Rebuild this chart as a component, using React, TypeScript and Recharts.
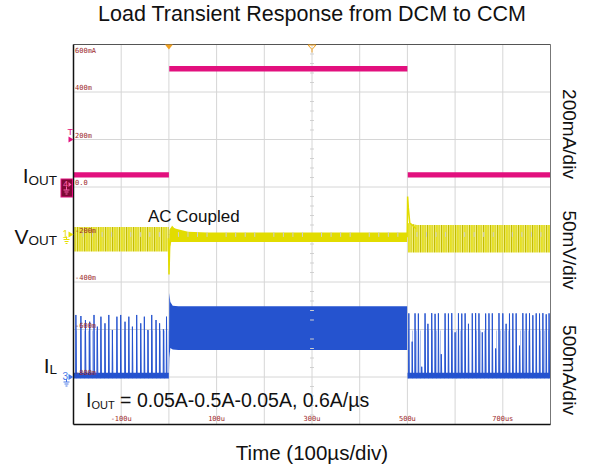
import React from "react";
import {
  ComposedChart,
  Area,
  Line,
  XAxis,
  YAxis,
  CartesianGrid,
  ReferenceLine,
  ReferenceDot,
} from "recharts";

// time base: 100us/div, trigger at 0
const timeTicks = [-200, -100, 0, 100, 200, 300, 400, 500, 600, 700, 800];
const timeLabels: Record<string, string> = {
  "-100": "-100u",
  "100": "100u",
  "300": "300u",
  "500": "500u",
  "700": "700us",
};

// scale readout of ch4 (mA), 200mA/div
const iTicks = [-1000, -800, -600, -400, -200, 0, 200, 400, 600];
const iLabels: Record<string, string> = {
  "600": "600mA",
  "400": "400m",
  "200": "200m",
  "0": "0.0",
  "-200": "-200m",
  "-400": "-400m",
  "-600": "-600m",
  "-800": "-800m",
};

// ch4 IOUT (mA): trace envelope
const ioutTime = [-200, 0, 0.75, 500, 500.75, 800];
const ioutLow = [40, 40, 486, 486, 40, 40];
const ioutHigh = [62, 62, 510, 510, 62, 62];

// ch1 VOUT (mV, AC coupled): ripple envelopes
const vDcm1Time = [-200, -0.5];
const vDcm1Low = [-18, -18];
const vDcm1High = [8, 8];
const vCcmTime = [1, 5, 15, 40, 80, 499.5];
const vCcmLow = [-15, -8, -8, -8, -8, -8];
const vCcmHigh = [5, 8, 6, 3, 2, 2];
const vDcm2Time = [501, 520, 800];
const vDcm2Low = [-19, -19, -19];
const vDcm2High = [12, 10, 10];
// ch1 transients
const vDipTime = [-1, 0.2, 1.5, 4, 7, 12];
const vDipVal = [-4, -42, -15, 4, 8, 5];
const vSpikeTime = [499.5, 500.5, 502, 505, 510, 518];
const vSpikeVal = [-3, 40, 28, 12, 10, 6];

// ch3 IL (mA)
const ilCcmTime = [0, 0.8, 3, 8, 20, 499.5];
const ilCcmLow = [15, 200, 305, 290, 284, 284];
const ilCcmHigh = [45, 884, 790, 750, 745, 745];
const ilBase1Time = [-200, -0.2];
const ilBase2Time = [500.3, 800];
const ilBaseLow = [-15, -15];
const ilBaseHigh = [45, 45];
const ilFaintHigh = [490, 490];
// DCM pulses before the step
const pulse1Time = [-195, -184.5, -175, -166, -157, -150, -142.5, -134, -126, -118.5, -109, -101, -92, -84, -76.5, -67.5, -59, -51.5, -44, -36, -27, -19.5, -11.5, -5];
const pulse1Peak = [653, 642, 600, 582, 653, 530, 635, 565, 653, 495, 635, 653, 582, 635, 530, 653, 565, 635, 495, 653, 600, 565, 502, 635];
// DCM pulses after the step
const pulse2Time = [503, 510, 516, 523, 530, 537, 543, 551, 558, 565, 571, 579, 586, 593, 600, 607, 614, 621, 628, 636, 643, 650, 657, 664, 671, 678, 685, 692, 700, 707, 714, 721, 728, 735, 742, 749, 756, 763, 770, 777, 784, 791, 797];
const pulse2Peak = [670, 372, 670, 668, 108, 670, 560, 672, 665, 670, 240, 670, 668, 672, 470, 670, 668, 670, 560, 670, 672, 670, 470, 668, 670, 670, 300, 672, 670, 560, 668, 670, 670, 330, 672, 668, 670, 650, 670, 668, 672, 660, 670];

const band = (time: number[], lo: number[], hi: number[]) =>
  time.map((t, i) => ({ t, r: [lo[i], hi[i]] }));
const trace = (time: number[], val: number[]) =>
  time.map((t, i) => ({ t, v: val[i] }));
const pulses = (time: number[], peak: number[], base: number) =>
  time.flatMap((t, i) => [
    { t: t - 0.5, v: base },
    { t, v: peak[i] },
    { t: t + 1, v: base },
  ]);

const MAGENTA = "#e2107e";
const YELLOW = "#e2dc00";
const BLUE = "#2553cf";
const ORANGE = "#f0a020";
const LABEL_RED = "#9c2a2a";
const SANS = "'Liberation Sans', Arial, Helvetica, sans-serif";
const MONO = "'DejaVu Sans Mono', monospace";

const XTick = (p: any) => {
  const s = timeLabels[String(p.payload.value)];
  if (!s) return <g />;
  return (
    <text x={p.x} y={421} textAnchor="middle" fontSize={7} fontFamily={MONO} fill={LABEL_RED}>
      {s}
    </text>
  );
};

const YTick = (p: any) => {
  const s = iLabels[String(p.payload.value)];
  if (!s) return <g />;
  const top = p.payload.value === 600;
  return (
    <text x={75} y={top ? p.y + 8 : p.y - 2} fontSize={7} fontFamily={MONO} fill={LABEL_RED}>
      {s}
    </text>
  );
};

const Ground = ({ x, y, c }: { x: number; y: number; c: string }) => (
  <g stroke={c} strokeWidth={1}>
    <line x1={x} y1={y} x2={x} y2={y + 3} />
    <line x1={x - 3} y1={y + 3} x2={x + 3} y2={y + 3} />
    <line x1={x - 2} y1={y + 5} x2={x + 2} y2={y + 5} />
    <line x1={x - 1} y1={y + 7} x2={x + 1} y2={y + 7} />
  </g>
);

const ChMarker = (c: string, n: string) => (p: any) => (
  <g>
    <text x={p.cx - 11} y={p.cy + 3} fontSize={10} fontFamily={SANS} fill={c}>
      {n}
    </text>
    <path d={`M${p.cx - 5},${p.cy - 3} L${p.cx},${p.cy} L${p.cx - 5},${p.cy + 3} Z`} fill={c} />
    <Ground x={p.cx - 7} y={p.cy + 2} c={c} />
  </g>
);

const Ch4Marker = (p: any) => (
  <g>
    <rect x={p.cx - 12.5} y={p.cy - 8} width={11.5} height={18} fill="#7d0834" stroke={MAGENTA} />
    <text x={p.cx - 10.5} y={p.cy} fontSize={9} fontFamily={SANS} fill="#ff5fae">
      4
    </text>
    <path d={`M${p.cx - 5},${p.cy - 5} L${p.cx - 2},${p.cy - 2.5} L${p.cx - 5},${p.cy} Z`} fill="#ff5fae" />
    <Ground x={p.cx - 7} y={p.cy} c="#ff5fae" />
  </g>
);

const TrigMarker = (p: any) => (
  <g>
    <text x={p.cx - 6} y={p.cy - 5} fontSize={9} fontFamily={SANS} fill={MAGENTA}>
      T
    </text>
    <path d={`M${p.cx - 5},${p.cy - 3} L${p.cx},${p.cy} L${p.cx - 5},${p.cy + 3} Z`} fill={MAGENTA} />
  </g>
);

const TrigPos = (p: any) => (
  <path d={`M${p.cx - 4},${p.cy} L${p.cx + 4},${p.cy} L${p.cx},${p.cy + 5} Z`} fill={ORANGE} />
);

const CenterPos = (p: any) => (
  <g stroke={ORANGE} fill="none" strokeWidth={1}>
    <path d={`M${p.cx - 4},${p.cy + 0.5} L${p.cx + 4},${p.cy + 0.5} L${p.cx},${p.cy + 5} Z`} />
    <line x1={p.cx} y1={p.cy + 5} x2={p.cx} y2={p.cy + 8} />
  </g>
);

const minorY = [-960, -920, -880, -840, -760, -720, -680, -640, -560, -520, -480, -440, -360, -320, -280, -240, -160, -120, -80, -40, 40, 80, 120, 160, 240, 280, 320, 360, 440, 480, 520, 560];
const minorX = [-180, -160, -140, -120, -80, -60, -40, -20, 20, 40, 60, 80, 120, 140, 160, 180, 220, 240, 260, 280, 320, 340, 360, 380, 420, 440, 460, 480, 520, 540, 560, 580, 620, 640, 660, 680, 720, 740, 760, 780];

export default function App() {
  return (
    <div style={{ position: "absolute", left: 0, top: 0, width: 592, height: 470, background: "#fff" }}>
      <ComposedChart
        width={592}
        height={470}
        margin={{ top: 44.5, right: 41.5, bottom: 45.5, left: 73.5 }}
      >
        <defs>
          <pattern id="vStripes" width={7} height={4} patternUnits="userSpaceOnUse">
            <rect x={0} y={0} width={7} height={4} fill="#f2ef80" />
            <rect x={0} y={0} width={1.2} height={4} fill="#c4bc00" />
            <rect x={2.3} y={0} width={1.3} height={4} fill="#e0da00" />
            <rect x={4.6} y={0} width={1} height={4} fill="#d2cb00" />
          </pattern>
          <pattern id="ilStripes" width={4} height={4} patternUnits="userSpaceOnUse">
            <rect x={0} y={0} width={1} height={4} fill="#b3c4f0" />
          </pattern>
        </defs>
        <CartesianGrid yAxisId="i" stroke="#d6d6d6" />
        <XAxis
          type="number"
          dataKey="t"
          domain={[-200, 800]}
          ticks={timeTicks}
          interval={0}
          mirror
          axisLine={false}
          tickLine={false}
          tick={XTick}
          allowDataOverflow
        />
        <YAxis
          yAxisId="i"
          type="number"
          domain={[-1000, 600]}
          ticks={iTicks}
          interval={0}
          mirror
          axisLine={false}
          tickLine={false}
          tick={YTick}
          allowDataOverflow
        />
        <YAxis yAxisId="v" type="number" domain={[-200, 200]} hide allowDataOverflow />
        <YAxis yAxisId="l" type="number" domain={[-500, 3500]} hide allowDataOverflow />

        {minorY.map((v) => (
          <ReferenceLine key={"my" + v} yAxisId="i" segment={[{ x: 296, y: v }, { x: 304, y: v }]} stroke="#cfcfcf" />
        ))}
        {minorX.map((t) => (
          <ReferenceLine key={"mx" + t} yAxisId="i" segment={[{ x: t, y: -210 }, { x: t, y: -190 }]} stroke="#cfcfcf" />
        ))}

        {/* ch4 IOUT */}
        <Area yAxisId="i" data={band(ioutTime, ioutLow, ioutHigh)} dataKey="r" type="linear" stroke="none" fill={MAGENTA} fillOpacity={1} isAnimationActive={false} />

        {/* ch1 VOUT */}
        <Area yAxisId="v" data={band(vDcm1Time, vDcm1Low, vDcm1High)} dataKey="r" type="linear" stroke="none" fill="url(#vStripes)" fillOpacity={1} isAnimationActive={false} />
        <Area yAxisId="v" data={band(vCcmTime, vCcmLow, vCcmHigh)} dataKey="r" type="linear" stroke="none" fill={YELLOW} fillOpacity={1} isAnimationActive={false} />
        <Area yAxisId="v" data={band(vDcm2Time, vDcm2Low, vDcm2High)} dataKey="r" type="linear" stroke="none" fill="url(#vStripes)" fillOpacity={1} isAnimationActive={false} />
        <Line yAxisId="v" data={trace(vDipTime, vDipVal)} dataKey="v" type="linear" stroke={YELLOW} strokeWidth={1.5} dot={false} activeDot={false} isAnimationActive={false} />
        <Line yAxisId="v" data={trace(vSpikeTime, vSpikeVal)} dataKey="v" type="linear" stroke={YELLOW} strokeWidth={1.5} dot={false} activeDot={false} isAnimationActive={false} />

        {/* ch3 IL */}
        <Area yAxisId="l" data={band(ilBase1Time, ilBaseLow, ilFaintHigh)} dataKey="r" type="linear" stroke="none" fill="url(#ilStripes)" fillOpacity={1} isAnimationActive={false} />
        <Area yAxisId="l" data={band(ilBase2Time, ilBaseLow, ilFaintHigh)} dataKey="r" type="linear" stroke="none" fill="url(#ilStripes)" fillOpacity={1} isAnimationActive={false} />
        <Line yAxisId="l" data={pulses(pulse1Time, pulse1Peak, 15)} dataKey="v" type="linear" stroke={BLUE} strokeWidth={1} dot={false} activeDot={false} isAnimationActive={false} />
        <Line yAxisId="l" data={pulses(pulse2Time, pulse2Peak, 15)} dataKey="v" type="linear" stroke={BLUE} strokeWidth={1} dot={false} activeDot={false} isAnimationActive={false} />
        <Area yAxisId="l" data={band(ilBase1Time, ilBaseLow, ilBaseHigh)} dataKey="r" type="linear" stroke="none" fill={BLUE} fillOpacity={1} isAnimationActive={false} />
        <Area yAxisId="l" data={band(ilBase2Time, ilBaseLow, ilBaseHigh)} dataKey="r" type="linear" stroke="none" fill={BLUE} fillOpacity={1} isAnimationActive={false} />
        <Area yAxisId="l" data={band(ilCcmTime, ilCcmLow, ilCcmHigh)} dataKey="r" type="linear" stroke="none" fill={BLUE} fillOpacity={1} isAnimationActive={false} />

        {/* frame */}
        <ReferenceLine yAxisId="i" y={600} stroke="#555" />
        <ReferenceLine yAxisId="i" x={800} stroke="#777" />
        <ReferenceLine yAxisId="i" x={-200} stroke="#111" strokeWidth={1.5} />
        <ReferenceLine yAxisId="i" y={-1000} stroke="#111" strokeWidth={1.5} />

        {/* channel / trigger markers */}
        <ReferenceDot yAxisId="i" x={-200} y={0} r={0} shape={Ch4Marker} />
        <ReferenceDot yAxisId="v" x={-200} y={0} r={0} shape={ChMarker("#e8e000", "1")} />
        <ReferenceDot yAxisId="l" x={-200} y={0} r={0} shape={ChMarker("#4a78e6", "3")} />
        <ReferenceDot yAxisId="i" x={-200} y={200} r={0} shape={TrigMarker} />
        <ReferenceDot yAxisId="i" x={0} y={600} r={0} shape={TrigPos} />
        <ReferenceDot yAxisId="i" x={300} y={600} r={0} shape={CenterPos} />
      </ComposedChart>

      <svg width={592} height={470} style={{ position: "absolute", left: 0, top: 0, pointerEvents: "none" }} fontFamily={SANS} fill="#111">
        <text x={312} y={21} textAnchor="middle" fontSize={21.5}>
          Load Transient Response from DCM to CCM
        </text>
        <text x={312} y={460} textAnchor="middle" fontSize={20.5}>
          Time (100µs/div)
        </text>
        <text x={148} y={222} fontSize={17}>
          AC Coupled
        </text>
        <text x={86} y={407} fontSize={19.5}>
          I<tspan fontSize={11} dy={2}>OUT</tspan>
          <tspan dy={-2}> = 0.05A-0.5A-0.05A, 0.6A/µs</tspan>
        </text>
        <text x={57} y={183} textAnchor="end" fontSize={21}>
          I<tspan fontSize={13.5} dy={2}>OUT</tspan>
        </text>
        <text x={57} y={244} textAnchor="end" fontSize={21}>
          V<tspan fontSize={13.5} dy={1}>OUT</tspan>
        </text>
        <text x={57} y={373} textAnchor="end" fontSize={21}>
          I<tspan fontSize={13.5} dy={1}>L</tspan>
        </text>
        <text transform="translate(563,134) rotate(90)" textAnchor="middle" fontSize={19}>
          200mA/div
        </text>
        <text transform="translate(563,250) rotate(90)" textAnchor="middle" fontSize={19}>
          50mV/div
        </text>
        <text transform="translate(563,370) rotate(90)" textAnchor="middle" fontSize={19}>
          500mA/div
        </text>
      </svg>
    </div>
  );
}
